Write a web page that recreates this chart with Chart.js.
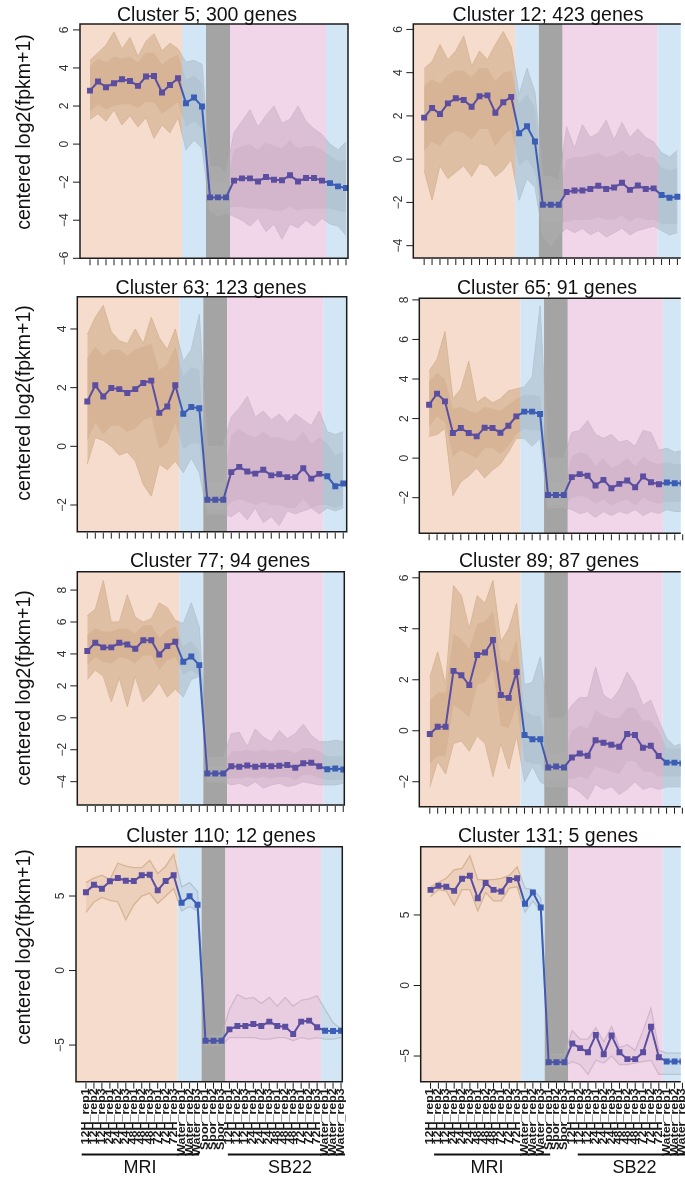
<!DOCTYPE html>
<html>
<head>
<meta charset="utf-8">
<script src="https://cdn.jsdelivr.net/npm/chart.js"></script>
<style>
html, body { margin: 0; padding: 0; background: #fff; }
#wrap { position: relative; width: 685px; height: 1178px; overflow: hidden; }
#wrap canvas { position: absolute; left: 0; top: 0; }
</style>
</head>
<body>
<div id="wrap"></div>
<script>
// samples on the x axis (MRI, water, spores, SB22, water)
var sampleLabels = ['12H_rep1','12H_rep2','12H_rep3','24H_rep1','24H_rep2','24H_rep3','48H_rep1','48H_rep2','48H_rep3','72H_rep1','72H_rep2','72H_rep3',
  'Water_rep1','Water_rep2','Water_rep3','Spor_rep1','Spor_rep2','Spor_rep3',
  '12H_rep1','12H_rep2','12H_rep3','24H_rep1','24H_rep2','24H_rep3','48H_rep1','48H_rep2','48H_rep3','72H_rep1','72H_rep2','72H_rep3',
  'Water_rep1','Water_rep2','Water_rep3'];
var regionBreaks = [11.5, 14.5, 17.5, 29.5];
var clusterTitles = ['Cluster 5; 300 genes', 'Cluster 12; 423 genes', 'Cluster 63; 123 genes', 'Cluster 65; 91 genes',
  'Cluster 77; 94 genes', 'Cluster 89; 87 genes', 'Cluster 110; 12 genes', 'Cluster 131; 5 genes'];

// cluster means
var mean5 = [2.81,3.29,2.99,3.2,3.41,3.32,3.06,3.55,3.58,2.71,3.11,3.46,2.15,2.45,1.98,-2.8,-2.8,-2.8,-1.92,-1.8,-1.8,-1.96,-1.73,-1.87,-1.9,-1.64,-1.96,-1.78,-1.78,-1.92,-2.05,-2.22,-2.31];
var mean12 = [1.92,2.37,2.09,2.58,2.82,2.74,2.42,2.91,2.95,2.15,2.63,2.88,1.2,1.52,0.82,-2.11,-2.11,-2.11,-1.52,-1.45,-1.45,-1.38,-1.23,-1.38,-1.31,-1.09,-1.42,-1.22,-1.38,-1.35,-1.66,-1.78,-1.74];
var mean63 = [1.53,2.08,1.7,1.99,1.95,1.82,1.95,2.16,2.24,1.14,1.36,2.08,1.11,1.34,1.3,-1.82,-1.82,-1.82,-0.88,-0.7,-0.86,-0.93,-0.8,-0.99,-0.95,-1.05,-1.05,-0.75,-1.1,-0.94,-1.02,-1.36,-1.27];
var mean65 = [2.7,3.26,2.87,1.27,1.52,1.27,1.1,1.54,1.52,1.28,1.64,2.11,2.35,2.35,2.23,-1.86,-1.86,-1.86,-0.96,-0.81,-0.89,-1.38,-1.1,-1.52,-1.3,-1.13,-1.47,-0.93,-1.22,-1.32,-1.23,-1.27,-1.27];
var mean77 = [4.18,4.7,4.41,4.41,4.7,4.59,4.32,4.86,4.86,3.97,4.49,4.76,3.51,3.84,3.3,-3.49,-3.49,-3.49,-3.03,-3.07,-2.99,-3.07,-3.0,-3.03,-3.0,-2.96,-3.13,-2.84,-2.82,-3.03,-3.22,-3.17,-3.24];
var mean89 = [-0.13,0.16,0.16,2.35,2.18,1.79,2.97,3.07,3.56,1.4,1.29,2.3,-0.17,-0.33,-0.33,-1.44,-1.4,-1.44,-1.05,-0.89,-0.98,-0.37,-0.47,-0.55,-0.63,-0.13,-0.17,-0.67,-0.59,-0.99,-1.25,-1.25,-1.28];
var mean110 = [5.25,5.76,5.49,5.99,6.21,6.03,6.01,6.39,6.43,5.38,6.01,6.39,4.55,4.98,4.42,-4.71,-4.71,-4.71,-3.95,-3.72,-3.72,-3.59,-3.72,-3.43,-3.72,-3.77,-4.26,-3.43,-3.36,-3.81,-4.04,-4.06,-4.04];
var mean131 = [6.78,7.07,7.0,6.71,7.57,7.78,6.19,7.26,6.78,6.67,7.49,7.61,5.79,6.6,5.53,-5.44,-5.44,-5.44,-4.11,-4.44,-4.73,-3.5,-4.87,-3.55,-4.73,-5.22,-5.22,-4.73,-2.93,-5.08,-5.39,-5.39,-5.39];

// range of the gene profiles (outer envelope)
var hi5 = [4.4,4.8,5.2,5.9,5.0,5.6,4.6,5.4,5.8,4.9,5.3,5.0,4.3,4.4,4.2,-1.2,-1.2,-1.5,0.6,1.2,1.8,0.9,1.5,2.0,1.1,1.3,2.0,1.2,0.8,0.5,0.0,-0.3,0.1];
var lo5 = [1.3,1.6,1.2,1.8,1.0,1.5,0.9,1.4,0.3,1.0,0.6,1.4,-0.3,0.2,-0.2,-3.5,-3.8,-3.6,-3.8,-4.0,-4.3,-3.9,-4.6,-4.2,-5.0,-4.2,-4.4,-4.0,-4.3,-3.9,-4.2,-4.3,-4.8];
var hi12 = [4.2,4.5,5.3,4.6,5.0,5.7,4.3,5.0,4.6,5.3,5.9,5.2,3.0,4.2,3.1,-0.8,-0.8,-1.0,1.5,0.5,1.6,1.0,1.2,1.8,0.9,1.7,1.0,1.4,1.0,0.8,0.3,0.1,0.4];
var lo12 = [-0.5,-1.9,-0.3,-0.9,-0.6,-0.3,-0.8,-0.2,-0.3,-0.8,-0.5,0.0,-1.9,-0.9,-1.3,-3.5,-4.0,-3.5,-3.2,-3.4,-3.2,-3.5,-3.3,-3.6,-3.4,-3.2,-3.5,-3.3,-3.2,-3.1,-3.3,-3.5,-3.4];
var hi63 = [3.8,4.4,4.8,3.9,3.6,3.5,4.0,3.5,4.4,3.7,3.3,4.0,2.9,3.3,4.5,0.0,0.0,0.0,1.0,1.3,1.7,1.0,1.2,0.9,1.1,0.8,1.1,0.9,0.7,1.2,0.5,0.4,0.5];
var lo63 = [-0.6,0.3,0.2,0.0,-0.3,-0.2,-0.5,-1.3,-1.7,-0.6,-0.8,-0.5,-0.9,-0.4,-0.9,-2.3,-2.3,-2.3,-2.4,-2.2,-2.5,-2.1,-2.6,-2.4,-2.7,-2.2,-2.3,-2.2,-2.1,-2.3,-2.1,-2.2,-2.1];
var hi65 = [4.4,5.0,6.4,3.0,3.5,4.9,2.8,3.1,2.8,3.0,3.4,3.5,3.6,4.1,7.7,0.0,0.0,0.0,1.3,1.4,1.9,1.2,1.0,1.2,0.8,0.9,0.6,1.4,1.3,0.4,0.5,0.3,0.4];
var lo65 = [1.1,1.2,1.5,-1.9,-1.2,-0.9,-0.5,-1.0,-0.6,-0.3,0.3,1.0,1.0,0.6,1.0,-2.5,-2.5,-2.5,-2.6,-2.8,-2.7,-3.0,-2.7,-2.9,-2.7,-2.8,-2.6,-2.9,-2.7,-2.8,-2.6,-2.7,-2.7];
var hi77 = [6.4,6.8,8.6,6.0,6.0,7.7,6.3,6.0,6.2,7.2,6.9,6.1,5.9,7.2,5.7,-2.5,-2.5,-2.5,-1.0,-0.9,-1.8,-0.7,-1.2,-1.5,-0.8,-1.3,-1.0,-0.4,-1.1,-1.5,-1.5,-1.4,-1.5];
var lo77 = [2.4,3.0,2.6,1.0,2.5,0.7,2.6,1.0,1.5,2.2,1.3,1.8,1.3,2.4,2.6,-4.0,-4.0,-4.0,-4.2,-4.1,-4.3,-4.0,-4.4,-4.2,-4.1,-4.3,-4.2,-4.0,-4.1,-4.2,-4.2,-4.2,-4.1];
var hi89 = [2.1,3.1,1.8,5.7,5.3,4.0,5.3,5.0,5.9,3.5,4.0,5.0,1.8,1.9,2.9,0.5,0.5,0.5,1.0,1.3,1.3,2.5,1.4,1.2,1.6,2.3,1.8,1.0,1.2,0.4,-0.3,-0.6,-0.5];
var lo89 = [-2.2,-1.2,-1.7,-0.5,-0.4,-0.8,-0.2,-0.5,-1.8,-0.5,-1.5,-0.2,-2.0,-1.4,-2.0,-2.2,-2.2,-2.2,-2.2,-2.4,-2.7,-2.1,-2.3,-2.2,-2.5,-2.3,-2.0,-2.3,-2.2,-2.3,-2.2,-2.2,-2.2];
var hi110 = [5.9,6.2,6.4,6.1,7.2,7.0,6.9,6.9,7.4,6.5,7.0,7.8,5.6,5.9,5.3,-4.4,-4.4,-4.4,-2.6,-1.6,-1.9,-1.8,-2.2,-1.8,-2.4,-1.8,-2.4,-2.0,-1.9,-1.7,-2.6,-3.5,-3.9];
var lo110 = [3.9,4.6,4.9,4.7,4.6,3.4,4.4,5.0,5.2,4.5,5.0,5.5,4.0,4.3,4.0,-5.0,-5.0,-5.0,-4.5,-4.5,-4.5,-4.5,-4.6,-4.6,-4.5,-4.5,-4.7,-4.5,-4.6,-4.5,-4.6,-4.6,-4.5];
var hi131 = [7.0,7.3,7.6,8.2,8.3,9.2,7.5,7.5,7.5,7.6,7.8,8.4,6.9,6.8,6.2,-4.9,-4.9,-4.9,-3.2,-3.8,-3.8,-3.0,-4.0,-2.9,-4.4,-4.2,-4.6,-3.2,-1.6,-4.6,-4.8,-4.8,-4.8];
var lo131 = [6.3,6.8,6.7,5.7,6.8,6.8,5.3,6.6,6.0,6.0,6.9,7.0,5.2,6.0,5.3,-5.7,-5.7,-5.7,-5.4,-5.6,-6.3,-5.3,-5.5,-5.0,-5.6,-5.6,-5.5,-5.4,-5.3,-6.3,-6.3,-6.3,-6.3];

// dense core of the gene profiles
var coreHi5 = [4.1,4.5,4.3,4.6,4.5,4.6,4.3,4.8,4.8,4.2,4.5,4.7,3.4,3.6,3.2,-2.0,-2.0,-2.0,-0.3,-0.1,0.0,-0.3,0.1,-0.1,-0.2,0.2,-0.2,-0.1,-0.1,-0.3,-0.6,-0.9,-0.8];
var coreLo5 = [1.7,2.1,1.8,2.0,2.1,2.1,1.9,2.2,2.2,1.6,1.9,2.2,0.9,1.2,0.8,-3.4,-3.4,-3.4,-3.3,-3.3,-3.4,-3.4,-3.4,-3.5,-3.5,-3.3,-3.5,-3.4,-3.4,-3.4,-3.4,-3.5,-3.6];
var coreHi12 = [3.4,3.7,3.5,3.9,4.1,4.1,3.8,4.2,4.2,3.6,4.0,4.1,2.6,3.0,2.4,-1.4,-1.4,-1.4,0.0,0.1,0.1,0.2,0.3,0.1,0.2,0.4,0.1,0.3,0.1,0.1,-0.4,-0.5,-0.4];
var coreLo12 = [0.4,0.8,0.6,1.1,1.3,1.2,0.9,1.4,1.4,0.6,1.1,1.4,-0.3,0.0,-0.6,-2.9,-2.9,-2.9,-2.9,-2.8,-2.8,-2.8,-2.7,-2.8,-2.8,-2.6,-2.9,-2.7,-2.8,-2.8,-3.0,-3.0,-3.0];
var coreHi63 = [3.0,3.4,3.1,3.3,3.3,3.1,3.3,3.4,3.5,2.6,2.8,3.4,2.4,2.7,2.6,-1.2,-1.2,-1.2,0.4,0.6,0.4,0.3,0.5,0.3,0.3,0.2,0.2,0.5,0.1,0.3,0.1,-0.3,-0.2];
var coreLo63 = [0.2,0.8,0.4,0.7,0.7,0.5,0.6,0.9,1.0,-0.1,0.1,0.8,-0.1,0.1,0.1,-2.2,-2.2,-2.2,-1.9,-1.8,-1.9,-2.0,-1.9,-2.0,-2.0,-2.1,-2.1,-1.8,-2.1,-2.0,-2.0,-2.1,-2.0];
var coreHi65 = [3.9,4.3,4.0,2.5,2.6,2.4,2.3,2.6,2.5,2.4,2.7,3.0,3.2,3.2,3.1,-1.2,-1.2,-1.2,0.1,0.3,0.2,-0.4,0.0,-0.5,-0.3,0.0,-0.4,0.1,-0.2,-0.3,-0.2,-0.3,-0.3];
var coreLo65 = [1.6,2.1,1.8,0.1,0.4,0.2,0.0,0.5,0.5,0.2,0.6,1.2,1.5,1.4,1.4,-2.4,-2.4,-2.4,-2.0,-1.9,-2.0,-2.3,-2.1,-2.4,-2.2,-2.1,-2.4,-2.0,-2.2,-2.3,-2.2,-2.2,-2.2];
var coreHi77 = [5.2,5.6,5.4,5.4,5.6,5.6,5.3,5.8,5.8,5.0,5.5,5.7,4.5,4.8,4.2,-3.0,-3.0,-3.0,-2.1,-2.1,-2.0,-2.1,-2.0,-2.1,-2.0,-2.0,-2.2,-1.9,-1.9,-2.1,-2.4,-2.4,-2.4];
var coreLo77 = [3.3,3.8,3.5,3.4,3.8,3.7,3.4,3.9,3.9,3.0,3.6,3.8,2.7,3.0,2.6,-3.9,-3.9,-3.9,-3.8,-3.8,-3.7,-3.8,-3.7,-3.8,-3.7,-3.7,-3.9,-3.6,-3.6,-3.8,-3.9,-3.9,-3.9];
var coreHi89 = [1.2,1.5,1.5,3.8,3.6,3.2,4.2,4.3,4.7,2.8,2.7,3.6,0.8,0.6,0.6,-0.9,-0.9,-0.9,0.0,0.2,0.1,0.8,0.6,0.5,0.5,0.9,0.9,0.4,0.4,0.0,-0.7,-0.7,-0.7];
var coreLo89 = [-1.3,-1.0,-1.0,1.0,0.8,0.5,1.8,1.9,2.4,0.2,0.1,1.0,-1.2,-1.3,-1.3,-1.9,-1.9,-1.9,-1.9,-1.8,-1.9,-1.4,-1.5,-1.6,-1.7,-1.2,-1.2,-1.6,-1.6,-1.8,-1.8,-1.8,-1.8];

// y tick labels
var yTicks5 = [-6,-4,-2,0,2,4,6];
var yTicks12 = [-4,-2,0,2,4,6];
var yTicks63 = [-2,0,2,4];
var yTicks65 = [-2,0,2,4,6,8];
var yTicks77 = [-4,-2,0,2,4,6,8];
var yTicks89 = [-2,0,2,4,6];
var yTicks110 = [-5,0,5];
var yTicks131 = [-5,0,5];

var bgColors = ['#f6dccc', '#d3e6f5', '#a4a4a4', '#f1d6ea', '#d3e6f5'];
var geneRGB = [[214,180,149], [179,196,210], [172,172,172], [211,182,203], [179,196,210]];
var meanColors = ['#5b4d9f', '#3a5db6', '#4b54a6', '#5b4d9f', '#3a5db6'];
var FONT = '"Liberation Sans", Arial, Helvetica, sans-serif';

var panels = [
  { title: clusterTitles[0], mean: mean5, hi: hi5, lo: lo5, coreHi: coreHi5, coreLo: coreLo5, yTicks: yTicks5,
    box: [80, 24, 348, 258.3], xr: [-1.25, 32.25], yr: [-6, 6.31], titleAt: [207, 21], yTitleY: 132 },
  { title: clusterTitles[1], mean: mean12, hi: hi12, lo: lo12, coreHi: coreHi12, coreLo: coreLo12, yTicks: yTicks12,
    box: [413.3, 24, 685, 258], xr: [-1.37, 32.43], yr: [-4.57, 6.25], titleAt: [548, 21] },
  { title: clusterTitles[2], mean: mean63, hi: hi63, lo: lo63, coreHi: coreHi63, coreLo: coreLo63, yTicks: yTicks63,
    box: [77.3, 296.7, 346.7, 531.7], xr: [-1.25, 32.43], yr: [-2.91, 5.1], titleAt: [211, 294], yTitleY: 403 },
  { title: clusterTitles[3], mean: mean65, hi: hi65, lo: lo65, coreHi: coreHi65, coreLo: coreLo65, yTicks: yTicks65,
    box: [419.3, 298.3, 685, 533.3], xr: [-1.24, 31.76], yr: [-3.8, 8.08], titleAt: [547, 294] },
  { title: clusterTitles[4], mean: mean77, hi: hi77, lo: lo77, coreHi: coreHi77, coreLo: coreLo77, yTicks: yTicks77,
    box: [77.3, 571.7, 344.3, 805], xr: [-1.25, 32.13], yr: [-5.46, 9.15], titleAt: [220, 567], yTitleY: 688 },
  { title: clusterTitles[5], mean: mean89, hi: hi89, lo: lo89, coreHi: coreHi89, coreLo: coreLo89, yTicks: yTicks89,
    box: [419.3, 571.7, 685, 806.7], xr: [-1.33, 31.8], yr: [-2.98, 6.24], titleAt: [549, 567] },
  { title: clusterTitles[6], mean: mean110, hi: hi110, lo: lo110, yTicks: yTicks110,
    box: [76, 846.7, 342.3, 1081.7], xr: [-1.25, 32.16], yr: [-7.46, 8.31], titleAt: [221, 842], yTitleY: 947,
    groups: [['MRI', -0.54, 14.2, 6.78], ['SB22', 17.8, 32.5, 25.6]] },
  { title: clusterTitles[7], mean: mean131, hi: hi131, lo: lo131, yTicks: yTicks131,
    box: [420.7, 846.7, 685, 1081.7], xr: [-1.25, 31.79], yr: [-6.82, 9.84], titleAt: [548, 842],
    groups: [['MRI', 0.45, 15.2, 7.16], ['SB22', 18.7, 34, 25.9]] }
];

function regionOf(i) {
  var k = 0;
  regionBreaks.forEach(function (b) { if (i > b) k++; });
  return k;
}
function rgba(c, a) { return 'rgba(' + c[0] + ',' + c[1] + ',' + c[2] + ',' + a + ')'; }

// horizontal gradient with hard stops at the region borders
function regionPaint(colors, alpha) {
  return function (ctx) {
    var chart = ctx.chart, area = chart.chartArea, xs = chart.scales.x;
    if (!area || !xs) return 'rgba(0,0,0,0)';
    var w = area.right - area.left;
    var g = chart.ctx.createLinearGradient(area.left, 0, area.right, 0);
    var cuts = regionBreaks.map(function (b) {
      return Math.min(1, Math.max(0, (xs.getPixelForValue(b) - area.left) / w));
    });
    colors.forEach(function (c, k) {
      var s = k === 0 ? 0 : cuts[k - 1];
      var e = k === colors.length - 1 ? 1 : cuts[k];
      var col = typeof c === 'string' ? c : rgba(c, alpha);
      g.addColorStop(s, col);
      g.addColorStop(e, col);
    });
    return g;
  };
}

function pts(arr) { return arr.map(function (v, i) { return { x: i, y: v }; }); }

function decor(p) {
  return {
    id: 'decor',
    beforeDatasetsDraw: function (chart) {
      var ctx = chart.ctx, a = chart.chartArea, xs = chart.scales.x;
      var edges = [xs.min].concat(regionBreaks, [xs.max]);
      ctx.save();
      for (var k = 0; k < bgColors.length; k++) {
        var x0 = xs.getPixelForValue(edges[k]), x1 = xs.getPixelForValue(edges[k + 1]);
        ctx.fillStyle = bgColors[k];
        ctx.fillRect(x0, a.top, x1 - x0, a.bottom - a.top);
      }
      ctx.restore();
    },
    afterDraw: function (chart) {
      var ctx = chart.ctx, a = chart.chartArea, xs = chart.scales.x, ys = chart.scales.y;
      var isLeft = p.yTitleY !== undefined;
      ctx.save();
      // box
      ctx.strokeStyle = '#1c1c1c';
      ctx.lineWidth = 1.5;
      ctx.beginPath();
      ctx.moveTo(a.right, a.top); ctx.lineTo(a.left, a.top); ctx.lineTo(a.left, a.bottom); ctx.lineTo(a.right, a.bottom);
      if (isLeft) ctx.closePath();
      ctx.stroke();
      // y ticks
      ctx.lineWidth = 1;
      ctx.fillStyle = '#333';
      ctx.font = '12px ' + FONT;
      p.yTicks.forEach(function (v) {
        var y = ys.getPixelForValue(v);
        ctx.beginPath(); ctx.moveTo(a.left - 7, y); ctx.lineTo(a.left, y); ctx.stroke();
        ctx.save();
        ctx.translate(a.left - 15, y);
        ctx.rotate(-Math.PI / 2);
        ctx.textAlign = 'center'; ctx.textBaseline = 'middle';
        ctx.fillText(String(v).replace('-', '\u2212'), 0, 0);
        ctx.restore();
      });
      // x ticks
      sampleLabels.forEach(function (lab, i) {
        var x = xs.getPixelForValue(i);
        ctx.beginPath(); ctx.moveTo(x, a.bottom + 1); ctx.lineTo(x, a.bottom + 7); ctx.stroke();
        if (p.groups) {
          ctx.save();
          ctx.fillStyle = '#1a1a1a';
          ctx.font = 'bold 12.5px ' + FONT;
          ctx.translate(x, a.bottom + 6.5);
          ctx.rotate(-Math.PI / 2);
          ctx.scale(1, 0.85);
          ctx.textAlign = 'right'; ctx.textBaseline = 'middle';
          ctx.fillText(lab, 0, 0);
          ctx.restore();
        }
      });
      // MRI / SB22 brackets
      if (p.groups) {
        p.groups.forEach(function (g) {
          ctx.strokeStyle = '#111';
          ctx.lineWidth = 2;
          ctx.beginPath();
          ctx.moveTo(xs.getPixelForValue(g[1]), 1154.5);
          ctx.lineTo(xs.getPixelForValue(g[2]), 1154.5);
          ctx.stroke();
          ctx.fillStyle = '#111';
          ctx.font = '18px ' + FONT;
          ctx.textAlign = 'center'; ctx.textBaseline = 'alphabetic';
          ctx.fillText(g[0], xs.getPixelForValue(g[3]), 1173);
        });
      }
      // title
      ctx.fillStyle = '#111';
      ctx.font = '19.5px ' + FONT;
      ctx.textAlign = 'center'; ctx.textBaseline = 'alphabetic';
      ctx.fillText(p.title, p.titleAt[0], p.titleAt[1]);
      // y axis title
      if (isLeft) {
        ctx.save();
        ctx.translate(25, p.yTitleY);
        ctx.rotate(-Math.PI / 2);
        ctx.font = '19.5px ' + FONT;
        ctx.textAlign = 'center'; ctx.textBaseline = 'middle';
        ctx.fillText('centered log2(fpkm+1)', 0, 0);
        ctx.restore();
      }
      ctx.restore();
    }
  };
}

var wrap = document.getElementById('wrap');
panels.forEach(function (p) {
  var canvas = document.createElement('canvas');
  canvas.width = 685;
  canvas.height = 1178;
  wrap.appendChild(canvas);

  var datasets = [{
    data: pts(p.mean),
    borderColor: regionPaint(meanColors),
    borderWidth: 2,
    pointStyle: 'rect',
    pointRadius: 4.2,
    pointBackgroundColor: p.mean.map(function (v, i) { return meanColors[regionOf(i)]; }),
    pointBorderColor: p.mean.map(function (v, i) { return meanColors[regionOf(i)]; }),
    pointBorderWidth: 0,
    fill: false
  }];
  if (p.coreHi) {
    datasets.push(
      { data: pts(p.coreHi), borderColor: 'rgba(0,0,0,0)', borderWidth: 0, pointRadius: 0, fill: false },
      { data: pts(p.coreLo), borderColor: 'rgba(0,0,0,0)', borderWidth: 0, pointRadius: 0, fill: '-1',
        backgroundColor: regionPaint(geneRGB, 1) },
      { data: pts(p.hi), borderColor: regionPaint(geneRGB, 0.9), borderWidth: 1, pointRadius: 0, fill: false },
      { data: pts(p.lo), borderColor: regionPaint(geneRGB, 0.9), borderWidth: 1, pointRadius: 0, fill: '-1',
        backgroundColor: regionPaint(geneRGB, 0.72) }
    );
  } else {
    datasets.push(
      { data: pts(p.hi), borderColor: regionPaint(geneRGB, 1), borderWidth: 1.3, pointRadius: 0, fill: false },
      { data: pts(p.lo), borderColor: regionPaint(geneRGB, 1), borderWidth: 1.3, pointRadius: 0, fill: '-1',
        backgroundColor: regionPaint(geneRGB, 0.3) }
    );
  }

  new Chart(canvas.getContext('2d'), {
    type: 'line',
    data: { datasets: datasets },
    options: {
      responsive: false,
      animation: false,
      events: [],
      layout: { padding: { left: p.box[0], top: p.box[1], right: 685 - p.box[2], bottom: 1178 - p.box[3] } },
      scales: {
        x: { type: 'linear', min: p.xr[0], max: p.xr[1], display: false },
        y: { type: 'linear', min: p.yr[0], max: p.yr[1], display: false }
      },
      elements: { line: { tension: 0 } },
      plugins: { legend: { display: false }, tooltip: { enabled: false } }
    },
    plugins: [decor(p)]
  });
});
</script>
</body>
</html>
